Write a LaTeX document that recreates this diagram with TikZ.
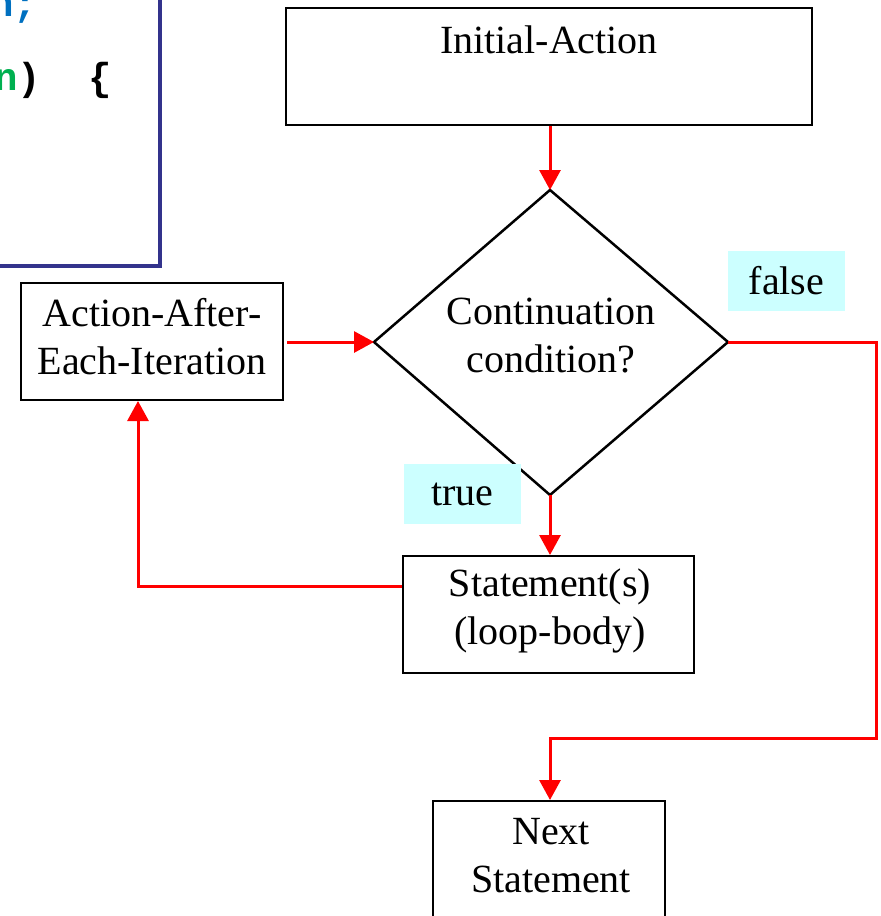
\documentclass[tikz,border=0pt]{standalone}
\usepackage{fontspec}
\setmainfont{Liberation Serif}
\newfontfamily\codefont{Liberation Mono}
\usetikzlibrary{arrows.meta}
\definecolor{codeframe}{RGB}{51,51,140}
\definecolor{kwblue}{RGB}{0,112,192}
\definecolor{kwgreen}{RGB}{0,176,80}
\definecolor{flowred}{RGB}{255,0,0}
\definecolor{tagbg}{RGB}{204,255,255}
\tikzset{
  box/.style={draw=black, line width=2pt, fill=white, inner sep=0pt},
  txt/.style={font=\fontsize{40}{48}\selectfont, align=center, inner sep=0pt},
  flow/.style={draw=flowred, line width=3pt},
  flowarrow/.style={flow, -{Triangle[width=21pt,length=20pt]}},
  tag/.style={fill=tagbg, minimum width=117pt, minimum height=60pt, inner sep=0pt,
    font=\fontsize{40}{48}\selectfont},
  code/.style={font=\codefont\bfseries\fontsize{39}{46}\selectfont, inner sep=0pt, anchor=base west}
}
\begin{document}
\begin{tikzpicture}[x=1pt,y=-1pt]
  \useasboundingbox (0,0) rectangle (881,916);

  % code listing frame (partly outside the page)
  \draw[codeframe, line width=4pt] (-20,-20) rectangle (160,266);
  \node[code] (line1) at (-9.7,16) {\textcolor{kwblue}{n;}};
  \node[code] (line2) at (-5.7,90) {\textcolor{kwgreen}{n})\ \ \{};

  % flowchart boxes
  \node[box, minimum width=526pt, minimum height=117pt] (init) at (549,66.5) {};
  \node[txt] (inittext) at (549,40) {Initial-Action};

  \coordinate (dtop) at (550,190);
  \coordinate (dbot) at (550,495);
  \coordinate (dleft) at (374,342);
  \coordinate (dright) at (728,342);
  \draw[line width=2.5pt, line join=miter] (dtop) -- (dright) -- (dbot) -- (dleft) -- cycle;
  \node[txt] (cond) at (551,336) {Continuation\\condition?};

  \node[box, minimum width=262pt, minimum height=117pt] (after) at (152,341.5) {};
  \node[txt] (aftertext) at (152,337) {Action-After-\\Each-Iteration};

  \node[box, minimum width=291pt, minimum height=117pt] (body) at (548.5,614.5) {};
  \node[txt] (bodytext) at (550,611) {Statement(s)\\(loop-body)};

  \node[box, minimum width=232pt, minimum height=140pt, anchor=north] (next) at (549,800) {};
  \node[txt] (nexttext) at (551,856) {Next\\Statement};

  % branch labels
  \node[tag] (false) at (786.5,281) {false};
  \node[tag] (true) at (462.5,494) {true};

  % connectors
  \draw[flowarrow] (init.south -| dtop) -- (dtop);
  \coordinate (afterout) at (287,342);
  \draw[flowarrow] (afterout) -- (dleft);
  \draw[flowarrow] (dbot) -- (body.north -| dbot);
  \coordinate (bodyout) at (body.west |- 0,586);
  \draw[flowarrow] (bodyout) -| (after.south -| 138,0);
  \coordinate (farright) at (876,342);
  \coordinate (lowturn) at (876,738);
  \draw[flowarrow, line join=miter] (dright) -- (farright) -- (lowturn) -- (550,738) -- (next.north -| 550,0);
\end{tikzpicture}
\end{document}
